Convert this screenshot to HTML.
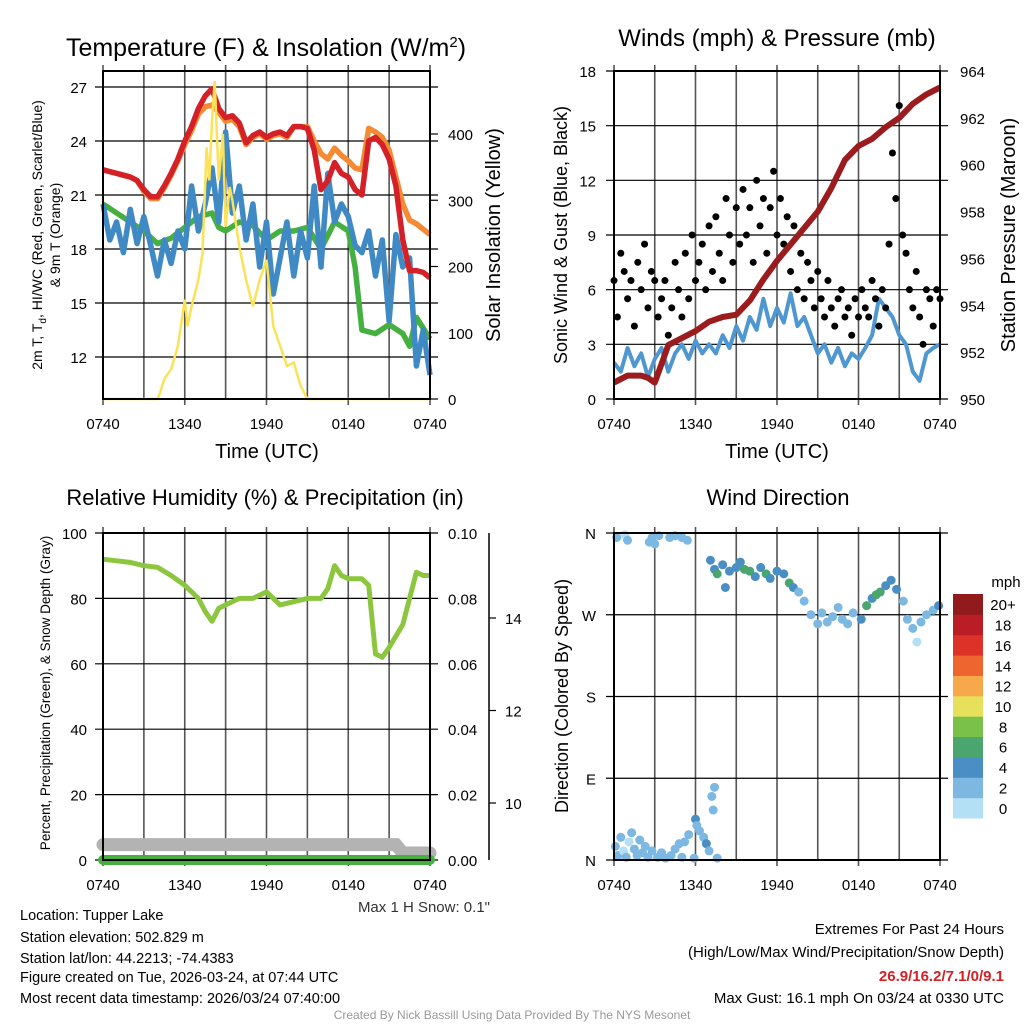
<!DOCTYPE html>
<html><head><meta charset="utf-8"><style>
body{margin:0;background:#fff}
svg{display:block;font-family:"Liberation Sans",sans-serif}
</style></head><body>
<svg id="s" width="1024" height="1024" viewBox="0 0 1024 1024"></svg>
<script>
// ---------- DATA ----------
const hrTicks = ["0740","1340","1940","0140","0740"];
// Temperature panel (hours since 0740 UTC)
const tempT = [0,0.5,1,1.5,2,2.5,3,3.5,4,4.5,5,5.5,6,6.5,7,7.5,8,8.5,9,9.5,10,10.5,11,11.5,12,12.5,13,13.5,14,14.5,15,15.5,16,16.5,17,17.5,18,18.5,19,19.5,20,20.5,21,21.5,22,22.5,23,23.5,24];
const tempRed = [22.4,22.3,22.2,22.1,22.0,21.8,21.3,20.9,20.9,21.5,22.2,23.0,24.0,24.8,25.8,26.5,26.9,25.8,25.3,25.4,25.0,23.9,24.3,24.5,24.2,24.4,24.5,24.3,24.8,24.8,24.7,23.5,21.3,21.8,22.8,22.2,22.0,21.3,21.0,24.0,24.2,23.8,23.0,21.5,18.5,16.8,16.8,16.7,16.4];
const tempOrange = [22.4,22.3,22.2,22.1,22.0,21.8,21.2,20.8,20.8,21.4,22.1,22.9,23.8,24.6,25.5,25.9,26.0,25.6,25.1,25.2,24.8,23.8,24.2,24.4,24.1,24.3,24.4,24.2,24.8,24.8,24.8,24.0,23.3,23.0,23.6,23.2,22.9,22.5,22.4,24.7,24.5,24.2,23.5,22.0,20.5,19.6,19.4,19.1,18.8];
const dewT = [0,1,2,3,4,5,6,7,8,8.5,9,10,11,12,13,14,15,16,17,18,18.5,19,20,21,22,22.5,23,24];
const dewVals = [20.5,20.0,19.5,19.0,18.3,18.6,19.2,19.8,20.0,19.2,19.0,19.5,19.3,18.5,19.0,19.0,19.2,18.0,19.5,19.0,17.0,13.5,13.3,13.8,13.3,12.6,14.2,13.0];
const wcVals = [20.5,18.5,19.5,17.8,20.2,18.3,19.8,18.2,16.5,18.5,17.2,19.0,18.0,21.5,19.0,20.5,22.5,19.5,24.5,20.0,21.5,18.5,20.5,17.0,19.5,15.5,17.5,19.5,16.5,19.0,17.5,21.5,17.0,22.2,19.5,20.5,19.8,18.2,17.8,19.0,16.5,18.5,14.0,18.8,17.0,17.5,11.5,13.5,11.0];
const solarT = [0,4,4.2,4.5,5,5.5,6,6.2,6.5,7,7.3,7.6,7.8,8,8.2,8.5,8.8,9,9.3,9.5,10,10.5,11,11.5,12,12.5,13,13.5,14,14.5,15,24];
const solarVals = [0,0,10,30,45,80,150,110,140,180,220,380,330,420,480,330,400,260,320,300,230,180,140,180,210,110,80,50,55,20,0,0];
// Winds panel
const presT = [0,1,2,2.5,3,4,5,6,7,8,9,10,11,12,13,14,15,16,17,18,19,20,21,22,23,24];
const presVals = [950.7,951.0,951.0,950.9,950.7,952.3,952.6,952.9,953.3,953.5,953.6,954.2,955.1,955.9,956.6,957.3,958.0,959.0,960.2,960.8,961.1,961.6,962.0,962.6,963.0,963.3];
const windVals = [2.0,1.5,2.8,1.8,2.5,1.2,2.2,2.8,1.5,2.5,3.0,2.2,3.2,2.5,3.0,2.5,3.5,2.8,4.0,3.2,4.5,3.8,5.5,4.0,5.0,4.2,5.8,4.0,4.5,3.5,2.5,3.0,2.0,2.8,1.8,2.5,2.2,2.8,3.5,5.5,5.0,4.5,3.5,3.0,1.5,1.0,2.5,2.8,3.0];
const gustVals = [6.5,4.5,8.0,7.0,5.5,6.5,4.0,7.5,6.0,8.5,5.0,7.0,6.5,4.5,5.5,6.5,3.5,5.0,7.5,6.0,4.5,8.0,5.5,9.0,6.5,7.5,8.5,6.0,9.5,7.0,10.0,8.0,6.5,11.0,9.0,7.5,10.5,8.5,11.5,9.0,10.5,7.5,12.0,9.5,11.0,8.0,10.5,12.5,9.0,11.0,8.5,10.0,7.0,9.5,6.0,8.0,5.5,7.5,6.5,5.0,7.0,5.5,4.5,6.5,5.0,4.0,5.5,6.0,4.5,5.0,3.5,5.5,4.5,6.0,5.0,4.5,6.5,5.5,4.0,6.0,5.0,8.5,13.5,11.0,16.1,9.0,8.0,6.0,5.0,7.0,4.5,3.0,6.0,5.5,4.0,6.0,5.5];
// RH panel
const rhT = [0,1,2,3,4,5,6,7,7.5,8,8.5,9,10,11,12,13,14,15,16,16.5,17,17.5,18,19,19.5,20,20.5,21,22,22.5,23,23.5,24];
const rhVals = [92,91.5,91,90,89.5,87,84,80,76,73,77,78,80,80,82,78,79,80,80,83,90,87,86,86,84,63,62,65,72,80,88,87,87];
const snowT = [0,21.5,22,24];
const snowVals = [9.1,9.1,8.92,8.92];
const precipT = [0,24];
const precipVals = [0,0];
// Wind direction panel
const dirT = [0.1,0.2,0.3,0.5,0.7,0.9,1.1,1.3,1.5,1.7,1.9,2.1,2.3,2.5,2.8,3.2,3.5,3.8,4.2,4.5,4.8,5.0,5.2,5.5,5.9,6.0,6.1,6.3,6.6,6.8,7.0,7.2,7.3,7.4,7.6,0.8,1.0,2.6,2.8,3.0,3.3,4.1,4.5,5.0,5.4,7.1,7.4,7.6,8.0,8.2,8.5,9.0,9.3,9.6,10.0,10.4,10.8,11.2,11.5,12.0,12.5,12.9,13.2,13.6,14.0,14.5,15.0,15.3,15.7,16.1,16.5,16.8,17.2,17.6,18.2,18.6,19.0,19.3,19.6,20.0,20.4,20.8,21.3,21.6,22.0,22.3,22.6,23.0,23.5,23.9];
const dirVals = [15,355,5,25,10,3,20,30,12,5,22,8,15,3,10,3,8,2,5,12,18,3,20,28,2,45,38,32,25,18,10,70,55,80,2,358,352,350,355,348,357,355,357,355,352,330,320,315,325,300,318,322,328,320,318,312,322,315,310,318,315,305,300,295,285,270,260,272,262,268,278,265,260,272,265,280,288,292,295,302,308,298,285,265,255,240,262,270,275,280];
const dirSpeed = [2,2,2,2,1,2,1,3,2,2,2,2,2,2,2,2,2,2,2,2,2,2,2,2,2,4,2,2,2,4,2,2,2,2,2,1,2,2,2,2,2,2,2,2,2,4,4,6,4,4,4,4,4,6,6,4,4,6,4,4,4,6,4,2,2,2,2,2,2,2,2,2,2,2,4,6,4,6,6,4,4,4,2,2,2,1,2,2,2,4];
const cbLabels = ["0","2","4","6","8","10","12","14","16","18","20+"];
const cbColors = ["#b3e0f5","#7db8e2","#4a8fc4","#4aa56e","#7ac14a","#e6e05a","#f6a84a","#ee6530","#dc3228","#bb1d26","#901a1c"];

// ---------- HELPERS ----------
const S = document.getElementById('s');
const NS = 'http://www.w3.org/2000/svg';
function mk(tag, attrs, parent){const e=document.createElementNS(NS,tag);for(const k in attrs)e.setAttribute(k,attrs[k]);(parent||S).appendChild(e);return e;}
function txt(str,x,y,size,anchor,extra){const e=mk('text',Object.assign({x:x,y:y,'font-size':size,'text-anchor':anchor||'middle',fill:'#000'},extra||{}));e.textContent=str;return e;}
function lin(d0,d1,r0,r1){return v=>r0+(v-d0)/(d1-d0)*(r1-r0);}
function pathD(xs,ys,fx,fy){return xs.map((t,i)=>(i?'L':'M')+fx(t).toFixed(1)+','+fy(ys[i]).toFixed(1)).join('');}
function frame(x0,x1,y0,y1,name){
  for(let i=0;i<=8;i++){const x=x0+(x1-x0)*i/8;const l=mk('line',{x1:x,x2:x,y1:y0-6,y2:y1+(i%2?0:6),stroke:'#555','stroke-width':1.6});
  
  }
  hrTicks.forEach((h,i)=>{const t=txt(h,x0+(x1-x0)*i/4,y1+30,15);
  
  });
}
function hgrid(x0,x1,y,name){const l=mk('line',{x1:x0-8,x2:x1+8,y1:y,y2:y,stroke:'#000','stroke-width':1.2});
  
  }
function border(x0,x1,y0,y1,name){const r=mk('rect',{x:x0,y:y0,width:x1-x0,height:y1-y0,fill:'none',stroke:'#000','stroke-width':2});
  
  }

// ---------- PANEL 1 ----------
{const x0=103,x1=430,y0=71,y1=399;
 const fx=lin(0,24,x0,x1), fy=lin(27,12,87,357), fs=lin(0,400,399,134);
 frame(x0,x1,y0,y1,'temp');
 [12,15,18,21,24,27].forEach(v=>{hgrid(x0,x1,fy(v),'temp-hgrid');const t=txt(String(v),x0-16,fy(v)+6,15,'end');
  
  });
 [0,100,200,300,400].forEach(v=>{const l=mk('line',{x1:x1,x2:x1+8,y1:fs(v),y2:fs(v),stroke:'#000','stroke-width':1.2});
  
  
  const t=txt(String(v),x1+18,fs(v)+6,15,'start');
  
  });
 let p=mk('path',{d:pathD(tempT,tempOrange,fx,fy),fill:'none',stroke:'#f58a35','stroke-width':5.5,'stroke-linejoin':'round'});
 
 
 p=mk('path',{d:pathD(dewT,dewVals,fx,fy),fill:'none',stroke:'#45b03f','stroke-width':5.5,'stroke-linejoin':'round'});
 
 
 p=mk('path',{d:pathD(tempT,wcVals,fx,fy),fill:'none',stroke:'#3f8ac4','stroke-width':5.5,'stroke-linejoin':'round'});
 
 
 p=mk('path',{d:pathD(tempT,tempRed,fx,fy),fill:'none',stroke:'#d42027','stroke-width':5.5,'stroke-linejoin':'round'});
 
 
 p=mk('path',{d:pathD(solarT,solarVals,fx,fs),fill:'none',stroke:'#fbe257','stroke-width':2.5});
 
 
 border(x0,x1,y0,y1,'temp-plot-border');
 let t=txt('',266,56,25);t.innerHTML='Temperature (F) &amp; Insolation (W/m<tspan dy="-9" font-size="15">2</tspan><tspan dy="9">)</tspan>';
 
 
 t=txt('Time (UTC)',267,458,20);
 
 
 t=mk('text',{x:0,y:0,'font-size':14,'text-anchor':'middle',transform:'translate(42,235) rotate(-90)'});
 t.innerHTML='2m T, T<tspan dy="4" font-size="10">d</tspan><tspan dy="-4">, HI/WC (Red, Green, Scarlet/Blue)</tspan>';
 
 
 t=txt('& 9m T (Orange)',0,0,14,'middle',{transform:'translate(60,235) rotate(-90)'});
 
 
 t=txt('Solar Insolation (Yellow)',0,0,20,'middle',{transform:'translate(500,235) rotate(-90)'});
 
 
}
// ---------- PANEL 2 ----------
{const x0=614,x1=940,y0=71,y1=399;
 const fx=lin(0,24,x0,x1), fy=lin(0,18,399,71), fp=lin(950,964,399,71);
 frame(x0,x1,y0,y1,'winds');
 [0,3,6,9,12,15,18].forEach(v=>{hgrid(x0,x1,fy(v),'winds-hgrid');const t=txt(String(v),x0-18,fy(v)+6,15,'end');
  
  });
 [950,952,954,956,958,960,962,964].forEach(v=>{const t=txt(String(v),x1+20,fp(v)+6,15,'start');
  
  });
 const wT=windVals.map((v,i)=>i*0.5);
 let p=mk('path',{d:pathD(wT,windVals,fx,fy),fill:'none',stroke:'#4e97d1','stroke-width':4,'stroke-linejoin':'round'});
 
 
 gustVals.forEach((g,i)=>{const c=mk('circle',{cx:fx(i*0.25),cy:fy(g),r:3.5,fill:'#000'});
  
  });
 p=mk('path',{d:pathD(presT,presVals,fx,fp),fill:'none',stroke:'#9b1c1f','stroke-width':6,'stroke-linejoin':'round'});
 
 
 border(x0,x1,y0,y1,'winds-plot-border');
 let t=txt('Winds (mph) & Pressure (mb)',777,46,24);
 
 
 t=txt('Time (UTC)',777,458,20);
 
 
 t=txt('Sonic Wind & Gust (Blue, Black)',0,0,18,'middle',{transform:'translate(567,235) rotate(-90)'});
 
 
 t=txt('Station Pressure (Maroon)',0,0,20,'middle',{transform:'translate(1015,235) rotate(-90)'});
 
 
}
// ---------- PANEL 3 ----------
{const x0=103,x1=430,y0=533,y1=860;
 const fx=lin(0,24,x0,x1), fy=lin(0,100,860,533), fsn=lin(10,14,803,618);
 frame(x0,x1,y0,y1,'rh');
 [0,20,40,60,80,100].forEach(v=>{hgrid(x0,x1,fy(v),'rh-hgrid');let t=txt(String(v),x0-16,fy(v)+6,15,'end');
  
  
  t=txt((v/1000).toFixed(2),x1+18,fy(v)+6,15,'start');
  
  });
 let l=mk('line',{x1:489,x2:489,y1:533,y2:860,stroke:'#000','stroke-width':1.5});
 
 
 [10,12,14].forEach(v=>{const k=mk('line',{x1:489,x2:496,y1:fsn(v),y2:fsn(v),stroke:'#000','stroke-width':1.2});
  
  
  const t=txt(String(v),505,fsn(v)+6,15,'start');
  
  });
 let p=mk('path',{d:pathD(snowT,snowVals,fx,fsn),fill:'none',stroke:'#b3b3b3','stroke-width':13,'stroke-linecap':'round'});
 
 
 p=mk('path',{d:pathD(precipT,precipVals,fx,v=>fy(v*1000)),fill:'none',stroke:'#45b03f','stroke-width':10,'stroke-linecap':'round'});
 
 
 p=mk('path',{d:pathD(rhT,rhVals,fx,fy),fill:'none',stroke:'#8cc63f','stroke-width':5,'stroke-linejoin':'round'});
 
 
 border(x0,x1,y0,y1,'rh-plot-border');
 let t=txt('Relative Humidity (%) & Precipitation (in)',265,505,22);
 
 
 t=txt('Percent, Precipitation (Green), & Snow Depth (Gray)',0,0,13.5,'middle',{transform:'translate(50,693) rotate(-90)'});
 
 
 t=txt('Max 1 H Snow: 0.1"',490,912,15,'end',{fill:'#333'});
 
 
}
// ---------- PANEL 4 ----------
{const x0=614,x1=940,y0=533,y1=860;
 const fx=lin(0,24,x0,x1), fd=lin(0,360,860,533);
 frame(x0,x1,y0,y1,'dir');
 ['N','E','S','W','N'].forEach((n,i)=>{hgrid(x0,x1,fd(i*90),'dir-hgrid');const t=txt(n,x0-18,fd(i*90)+6,15,'end');
  
  });
 dirT.forEach((tt,i)=>{const bin=Math.min(10,Math.floor(dirSpeed[i]/2));const c=mk('circle',{cx:fx(tt),cy:fd(dirVals[i]),r:4.5,fill:cbColors[bin]});
  
  });
 border(x0,x1,y0,y1,'dir-plot-border');
 cbColors.forEach((c,i)=>{const h=224/11;const y=818-(i+1)*h;const r=mk('rect',{x:953,y:y,width:30,height:h+0.5,fill:c});
  
  
  const t=txt(cbLabels[i],1003,y+h/2+6,15);
  
  });
 let t=txt('mph',1006,587,15);
 
 
 t=txt('Wind Direction',778,505,22);
 
 
 t=txt('Direction (Colored By Speed)',0,0,18,'middle',{transform:'translate(568,696) rotate(-90)'});
 
 
}
// ---------- FOOTER ----------
[['Location: Tupper Lake',920],['Station elevation: 502.829 m',942],['Station lat/lon: 44.2213; -74.4383',963],['Figure created on Tue, 2026-03-24, at 07:44 UTC',982],['Most recent data timestamp: 2026/03/24 07:40:00',1003]].forEach(a=>{
 const t=txt(a[0],20,a[1],14.5,'start');
 
 });
{let t=txt('Extremes For Past 24 Hours',1004,934,15,'end');
 
 
 t=txt('(High/Low/Max Wind/Precipitation/Snow Depth)',1004,957,15,'end');
 
 
 t=txt('26.9/16.2/7.1/0/9.1',1004,981,15,'end',{fill:'#d42027','font-weight':'bold'});
 
 
 t=txt('Max Gust: 16.1 mph On 03/24 at 0330 UTC',1004,1003,15,'end');
 
 
 t=txt('Created By Nick Bassill Using Data Provided By The NYS Mesonet',512,1019,12,'middle',{fill:'#999'});
 
 }
</script>
</body></html>
